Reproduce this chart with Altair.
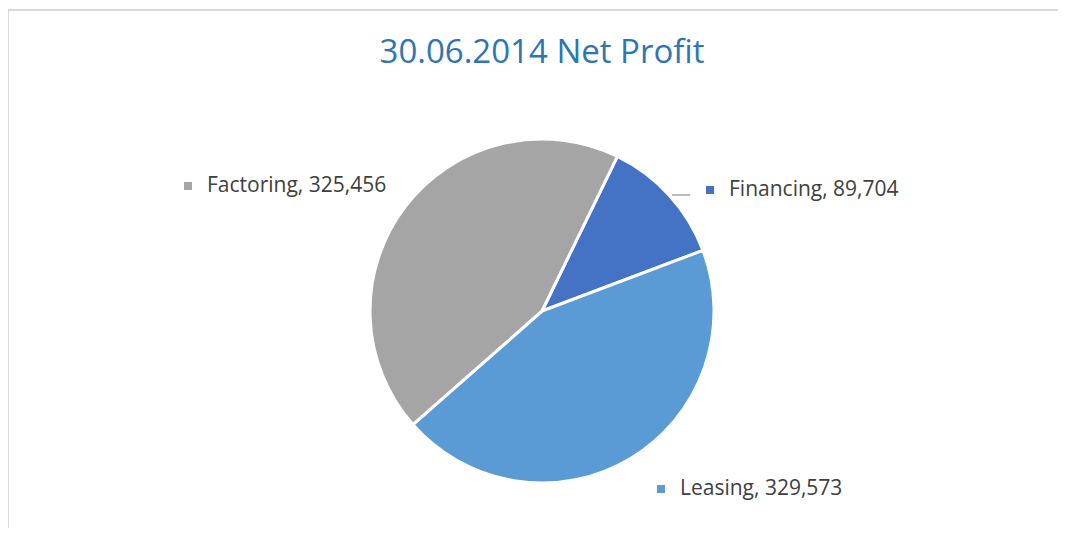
import math
import altair as alt
import pandas as pd

categories = ["Financing", "Leasing", "Factoring"]
values = [89704, 329573, 325456]
colors = ["#4472C4", "#5B9BD5", "#A5A5A5"]
title_text = "30.06.2014 Net Profit"

df = pd.DataFrame({
    "category": categories,
    "value": values,
    "idx": list(range(len(categories))),
})
df["label"] = [f"{c}, {v:,}" for c, v in zip(categories, values)]

start = math.radians(26)
cx, cy, r = 534, 303, 172
W, H = 1050, 520
font = "Open Sans"

color_scale = alt.Scale(domain=categories, range=colors)
base = alt.Chart(df)

pie = base.mark_arc(stroke="white", strokeWidth=3, radius=r).encode(
    theta=alt.Theta("value:Q", stack=True, scale=alt.Scale(range=[start, start + 2 * math.pi])),
    color=alt.Color("category:N", scale=color_scale, legend=None),
    order=alt.Order("idx:Q"),
    x=alt.value(cx),
    y=alt.value(cy),
)

# label positions (annotation placement)
label_pos = {
    "Factoring": (199, 178),
    "Financing": (721, 182),
    "Leasing": (672, 481),
}

layers = [pie]
for cat, (lx, ly) in label_pos.items():
    sub = base.transform_filter(alt.datum.category == cat)
    layers.append(
        sub.mark_square(size=64, opacity=1, filled=True).encode(
            x=alt.value(lx - 19), y=alt.value(ly),
            color=alt.Color("category:N", scale=color_scale, legend=None),
        )
    )
    layers.append(
        sub.mark_text(align="left", baseline="middle", font=font, fontSize=21, color="#404040").encode(
            x=alt.value(lx), y=alt.value(ly), text="label:N",
        )
    )

# leader line for Financing
leader = alt.Chart(pd.DataFrame({"k": [0]})).mark_rule(color="#A6A6A6", strokeWidth=1.5).encode(
    x=alt.value(664), x2=alt.value(682), y=alt.value(187)
)
# chart frame (left and top edges)
frame_top = alt.Chart(pd.DataFrame({"k": [0]})).mark_rule(color="#D9D9D9", strokeWidth=2).encode(
    x=alt.value(0), x2=alt.value(W + 20), y=alt.value(2)
)
frame_left = alt.Chart(pd.DataFrame({"k": [0]})).mark_rule(color="#D9D9D9", strokeWidth=2).encode(
    x=alt.value(0), y=alt.value(2), y2=alt.value(H + 20)
)
title = alt.Chart(pd.DataFrame({"t": [title_text]})).mark_text(
    align="center", baseline="middle", font=font, fontSize=33, color="#2E75B6"
).encode(x=alt.value(cx), y=alt.value(45), text="t:N")

chart = alt.layer(*layers, leader, frame_top, frame_left, title).properties(
    width=W, height=H, padding=0, autosize=alt.AutoSizeParams(type="none")
).configure_view(stroke=None)

chart.save("out.html", embed_options={"renderer": "svg", "actions": False})
